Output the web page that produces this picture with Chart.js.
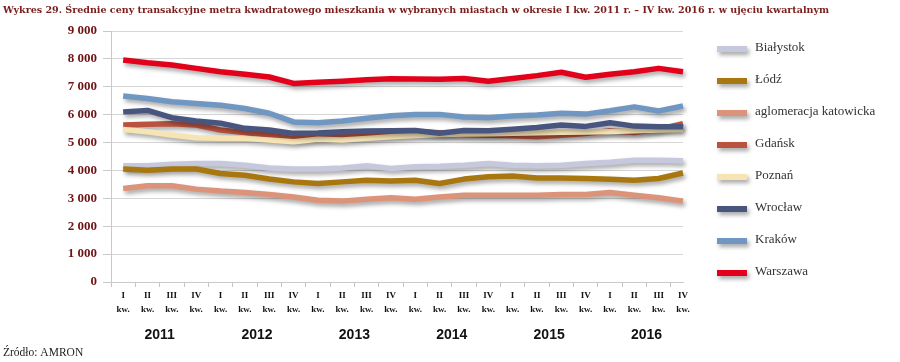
<!DOCTYPE html>
<html><head><meta charset="utf-8">
<script src="https://cdn.jsdelivr.net/npm/chart.js@4.4.0/dist/chart.umd.min.js"></script>
<style>html,body{margin:0;padding:0;background:#fff;}#wrap{width:900px;height:362px;}</style>
</head><body><div id="wrap"><canvas id="c" width="900" height="362"></canvas></div>
<script>
const titleText = "Wykres 29. Średnie ceny transakcyjne metra kwadratowego mieszkania w wybranych miastach w okresie I kw. 2011 r. – IV kw. 2016 r. w ujęciu kwartalnym";
const sourceText = "Źródło: AMRON";
const quarterNames = ["I","II","III","IV"];
const years = ["2011","2012","2013","2014","2015","2016"];
const quarterLabels = years.flatMap(() => quarterNames);
const quarterSuffix = "kw.";
const yMin = 0, yMax = 9000, yStep = 1000;

const cities = ["Białystok","Łódź","aglomeracja katowicka","Gdańsk","Poznań","Wrocław","Kraków","Warszawa"];
const colors = ["#c6c9dd","#a8770f","#db937a","#b9533f","#f6e4b5","#48557f","#7097c1","#e2001a"];

const bialystok = [4170,4170,4220,4250,4250,4190,4090,4050,4050,4090,4170,4070,4130,4150,4190,4250,4190,4170,4190,4250,4290,4370,4370,4350];
const lodz      = [4050,4010,4050,4050,3890,3830,3690,3590,3530,3590,3650,3620,3650,3530,3690,3770,3800,3730,3730,3710,3680,3650,3710,3910];
const katowice  = [3350,3450,3450,3330,3260,3210,3140,3050,2930,2900,2970,3020,2970,3050,3110,3110,3110,3110,3140,3140,3210,3110,3020,2900];
const gdansk    = [5630,5660,5670,5630,5450,5360,5270,5150,5180,5240,5290,5330,5390,5350,5290,5260,5240,5210,5260,5320,5420,5360,5480,5680];
const poznan    = [5470,5390,5270,5170,5150,5150,5090,5030,5120,5090,5150,5210,5250,5290,5310,5320,5330,5350,5370,5380,5400,5420,5450,5470];
const wroclaw   = [6100,6150,5890,5770,5690,5510,5450,5330,5340,5390,5410,5420,5430,5330,5430,5420,5480,5540,5630,5580,5710,5590,5570,5570];
const krakow    = [6670,6580,6460,6400,6340,6220,6050,5740,5710,5770,5870,5960,6010,6010,5920,5890,5950,5990,6050,6020,6140,6280,6130,6310];
const warszawa  = [7960,7860,7780,7660,7540,7450,7350,7120,7160,7200,7250,7290,7280,7270,7300,7200,7300,7400,7520,7340,7450,7540,7660,7540];
const seriesValues = [bialystok,lodz,katowice,gdansk,poznan,wroclaw,krakow,warszawa];

const SERIF = "'Liberation Serif', 'DejaVu Serif', serif";
const fmt = v => String(v).replace(/\B(?=(\d{3})+(?!\d))/g, " ");

const shadowPlugin = {
  id: 'shadow',
  beforeDatasetDraw(chart) {
    const ctx = chart.ctx; ctx.save();
    ctx.shadowColor = 'rgba(0,0,0,0.35)'; ctx.shadowBlur = 4; ctx.shadowOffsetX = 2; ctx.shadowOffsetY = 3;
  },
  afterDatasetDraw(chart) { chart.ctx.restore(); }
};

const decorPlugin = {
  id: 'decor',
  afterDraw(chart) {
    const ctx = chart.ctx;
    const xs = chart.scales.x;
    ctx.save();
    // title fit to width
    let fs = 11;
    ctx.font = `bold ${fs}px 'DejaVu Serif', serif`;
    const w = ctx.measureText(titleText).width;
    fs = fs * 827 / w;
    ctx.font = `bold ${fs}px 'DejaVu Serif', serif`;
    ctx.fillStyle = '#7a1c1c'; ctx.textBaseline = 'middle'; ctx.textAlign = 'left';
    ctx.fillText(titleText, 3, 10.5);
    // years
    ctx.font = "bold 14px 'Liberation Sans', Arial, sans-serif";
    ctx.fillStyle = '#111'; ctx.textAlign = 'center';
    years.forEach((y, k) => {
      ctx.fillText(y, xs.getPixelForValue(k * 4 + 1.5), 335);
    });
    // source
    ctx.font = `11.5px ${SERIF}`; ctx.fillStyle = '#222'; ctx.textAlign = 'left';
    ctx.fillText(sourceText, 3, 352.5);
    // legend
    chart.data.datasets.forEach((ds, i) => {
      const yy = 49 + i * 32;
      ctx.save();
      ctx.shadowColor = 'rgba(0,0,0,0.35)'; ctx.shadowBlur = 4; ctx.shadowOffsetX = 2; ctx.shadowOffsetY = 3;
      ctx.fillStyle = ds.borderColor;
      ctx.fillRect(717, yy - 3, 30, 6);
      ctx.restore();
      ctx.font = `13px ${SERIF}`; ctx.fillStyle = '#333'; ctx.textAlign = 'left'; ctx.textBaseline = 'middle';
      ctx.fillText(ds.label, 755, yy - 1);
    });
    ctx.restore();
  }
};

new Chart(document.getElementById('c'), {
  type: 'line',
  data: {
    datasets: cities.map((name, i) => ({
      label: name,
      data: seriesValues[i].map((v, j) => ({x: j, y: v})),
      borderColor: colors[i],
      backgroundColor: colors[i],
      borderWidth: 5.5,
      pointRadius: 0,
      tension: 0,
      borderJoinStyle: 'round',
      borderCapStyle: 'butt',
      clip: false,
      order: cities.length - i
    }))
  },
  options: {
    responsive: false,
    animation: false,
    devicePixelRatio: 1,
    layout: { padding: { left: 0, right: 217, top: 31, bottom: 0 } },
    plugins: { legend: { display: false }, tooltip: { enabled: false } },
    scales: {
      x: {
        type: 'linear', min: -0.5, max: quarterLabels.length - 1,
        afterFit: s => { s.height = 80; },
        border: { display: true, color: '#c9c9c9' },
        grid: {
          drawOnChartArea: false, drawTicks: true, tickLength: 5,
          tickColor: c => (c.tick && !Number.isInteger(c.tick.value)) ? '#c4c4c4' : 'rgba(0,0,0,0)'
        },
        ticks: {
          stepSize: 0.5, autoSkip: false, maxRotation: 0, minRotation: 0, padding: 2,
          color: '#111', font: { family: SERIF, size: 9, weight: 'bold', lineHeight: 1.5 },
          callback: v => Number.isInteger(v) ? [quarterLabels[v], quarterSuffix] : ''
        }
      },
      y: {
        min: yMin, max: yMax,
        afterFit: s => { s.width = 111; },
        border: { display: true, color: '#c9c9c9' },
        grid: { color: '#d6d6d6', tickColor: '#c9c9c9', tickLength: 8 },
        ticks: {
          stepSize: yStep, padding: 6, color: '#6e1414',
          font: { family: SERIF, size: 13, weight: 'bold' },
          callback: v => fmt(v)
        }
      }
    }
  },
  plugins: [shadowPlugin, decorPlugin]
});
</script></body></html>
